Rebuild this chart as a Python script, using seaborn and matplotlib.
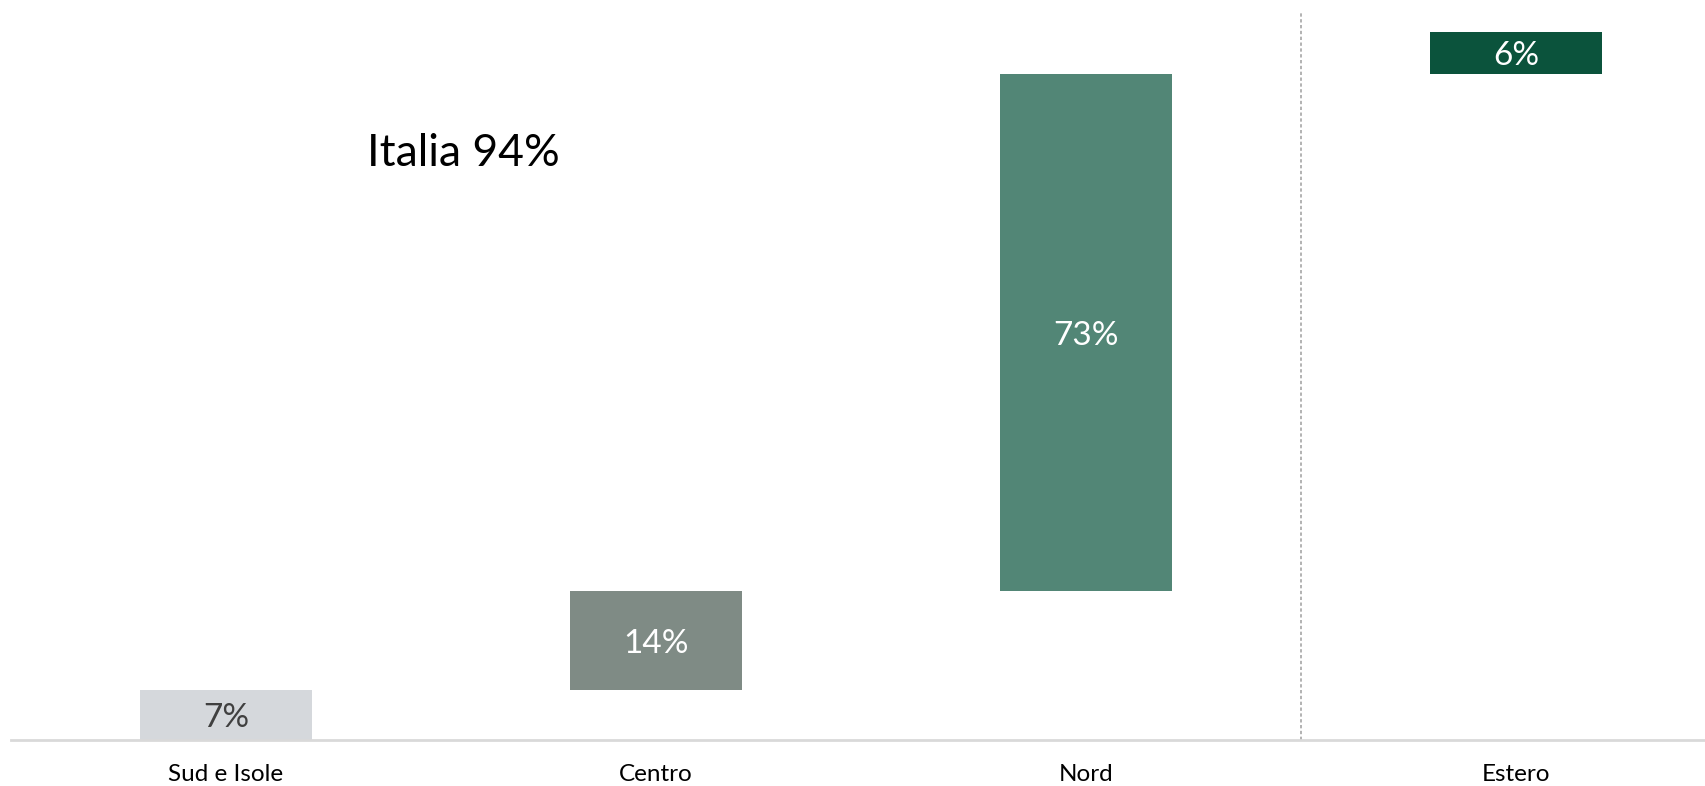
import numpy as np
import pandas as pd
import matplotlib
matplotlib.use("Agg")
import matplotlib.pyplot as plt
import seaborn as sns

categories = ["Sud e Isole", "Centro", "Nord", "Estero"]
values = [7, 14, 73, 6]
labels = ["7%", "14%", "73%", "6%"]
bar_colors = ["#d5d8dc", "#7f8b85", "#528676", "#0b533c"]
label_colors = ["#404040", "#ffffff", "#ffffff", "#ffffff"]
italia_text = "Italia 94%"

bottoms = np.concatenate([[0], np.cumsum(values)[:-1]])
df = pd.DataFrame({"cat": categories, "val": values})

sns.set_theme(style="white")
plt.rcParams["font.family"] = ["Lato", "DejaVu Sans"]

fig = plt.figure(figsize=(17.06, 7.86), dpi=100)
W, H = 1706, 786
ax = fig.add_axes([11 / W, 1 - 740 / H, 1 - 11 / W, (740 - 12) / H])

sns.barplot(data=df, x="cat", y="val", order=categories, color=bar_colors[0],
            errorbar=None, width=0.4, bottom=bottoms, linewidth=0, ax=ax)
for p, c in zip(ax.patches, bar_colors):
    p.set_facecolor(c)
    p.set_edgecolor(c)

cont = ax.containers[0]
ax.bar_label(cont, labels=labels, label_type="center", fontsize=24)
for t, c in zip(ax.texts, label_colors):
    t.set_color(c)
    t.set_va("center_baseline")

ax.text(0.553, 82.9, italia_text, ha="center", va="center", fontsize=32, color="#000000")

ax.axvline(2.5, color="#a6a6a6", linestyle=(0, (2, 1.5)), linewidth=1.2)

ax.set_xlim(-0.5, (W - 226) / 430)
ax.set_ylim(0, (740 - 12) / 7.08)
ax.set_xlabel("")
ax.set_ylabel("")
ax.set_yticks([])
ax.tick_params(axis="x", length=0, pad=17, labelsize=17.5, labelcolor="#000000")
for s in ["top", "right", "left"]:
    ax.spines[s].set_visible(False)
ax.spines["bottom"].set_color("#d9d9d9")
ax.spines["bottom"].set_linewidth(2)
ax.patch.set_alpha(0)

fig.savefig("out.png", dpi=100, facecolor="white")
